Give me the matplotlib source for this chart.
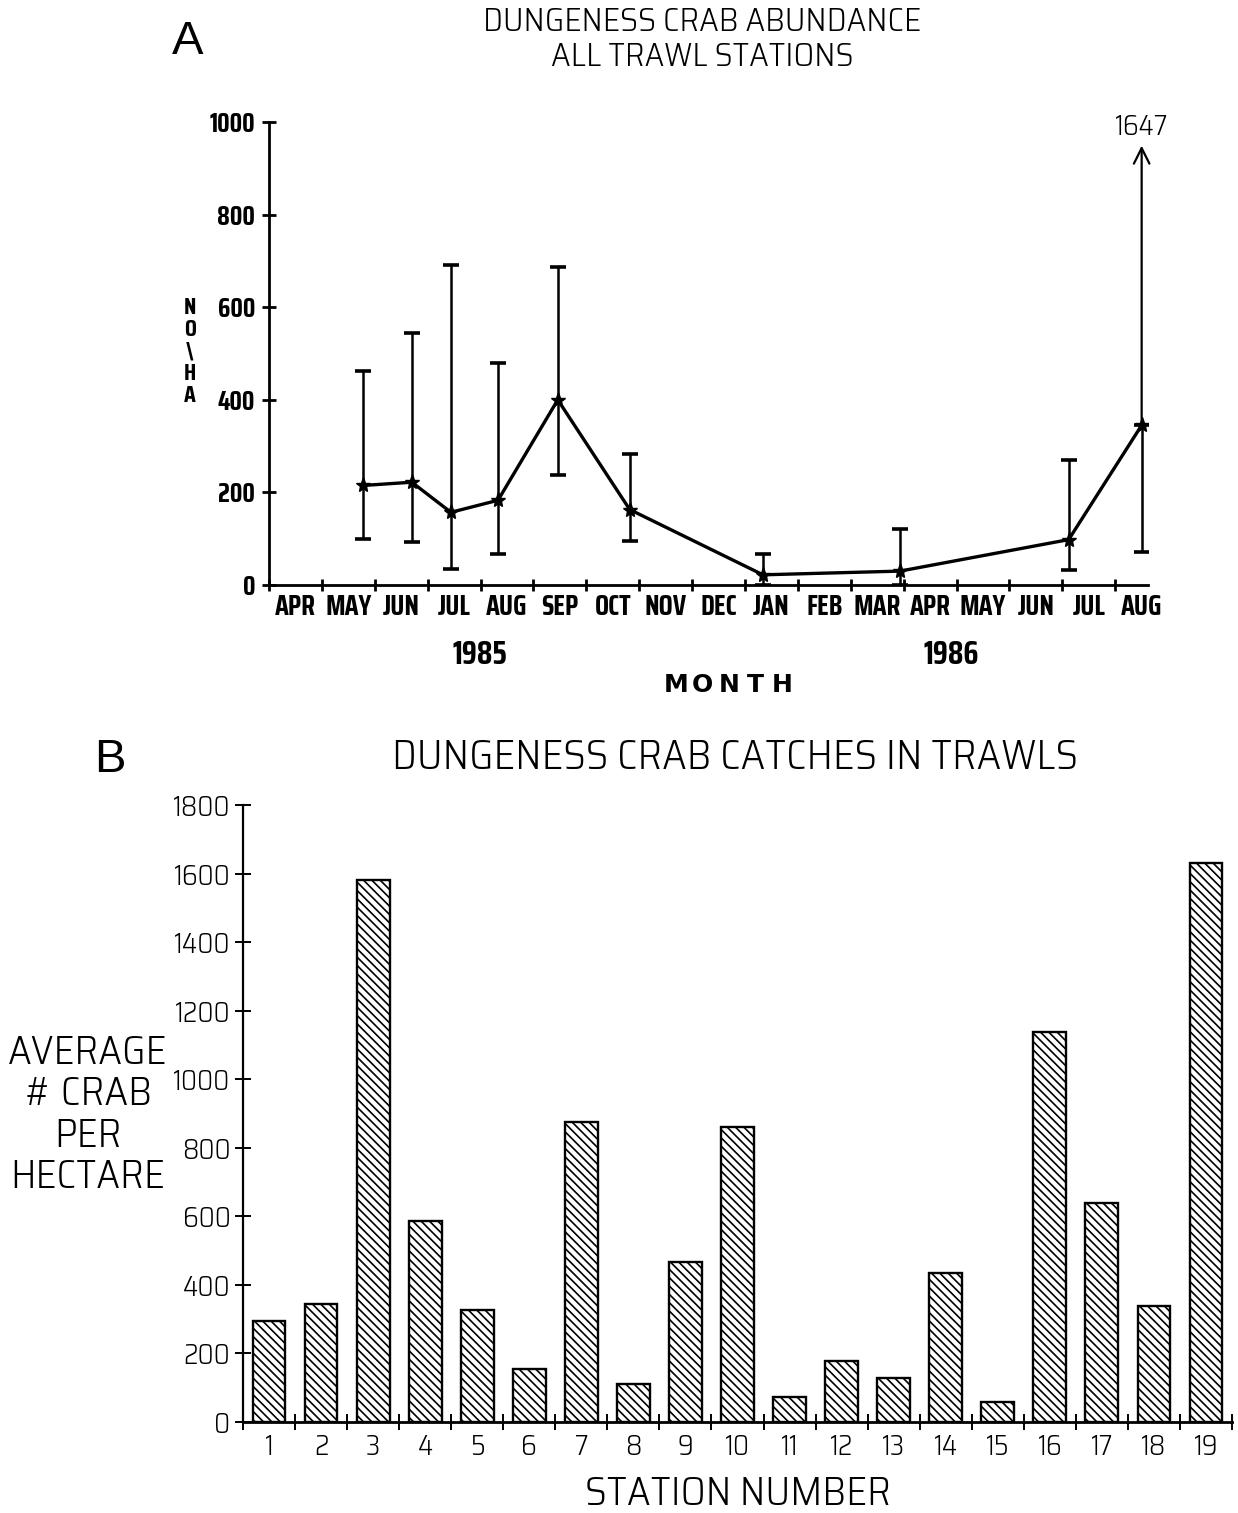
import matplotlib
matplotlib.use("Agg")
import matplotlib.pyplot as plt
import numpy as np

# ---------------- data ----------------
# Panel A
month_labels = ["APR", "MAY", "JUN", "JUL", "AUG", "SEP", "OCT", "NOV", "DEC",
                "JAN", "FEB", "MAR", "APR", "MAY", "JUN", "JUL", "AUG"]
sample_pos = [1.78, 2.70, 3.44, 4.33, 5.46, 6.82, 9.34, 11.93, 15.12, 16.50]
abundance = [215, 222, 157, 183, 400, 163, 22, 30, 98, 345]
err_low = [100, 93, 35, 68, 237, 95, 0, 0, 32, 72]
err_high = [462, 545, 692, 480, 686, 283, 68, 122, 270, 1647]
a_yticks = [0, 200, 400, 600, 800, 1000]

# Panel B
stations = list(range(1, 20))
catch = [295, 345, 1580, 585, 328, 155, 875, 112, 468, 860,
         72, 178, 127, 435, 57, 1137, 638, 338, 1630]
b_yticks = [0, 200, 400, 600, 800, 1000, 1200, 1400, 1600, 1800]

# ---------------- figure ----------------
W, H = 1238, 1513
fig = plt.figure(figsize=(W / 100, H / 100), dpi=100)

THIN = dict(fontfamily=["Saira SemiCondensed", "DejaVu Sans"], fontweight=300)
BOLD = dict(fontfamily=["Saira Condensed", "Saira ExtraCondensed", "DejaVu Sans"],
            fontweight=700)
SANS = dict(fontfamily=["Liberation Sans", "DejaVu Sans"])


def px_axes(left, right, top, bottom):
    return fig.add_axes([left / W, 1 - bottom / H, (right - left) / W, (bottom - top) / H])


# ======== Panel A ========
axA = px_axes(269, 1148, 100, 585)
axA.set_xlim(0, 16.62)
axA.set_ylim(0, 1047.5)
for s in ["top", "right"]:
    axA.spines[s].set_visible(False)
axA.spines["left"].set_bounds(0, 1000)
axA.spines["left"].set_linewidth(2.0)
axA.spines["bottom"].set_linewidth(2.0)

axA.set_yticks(a_yticks)
axA.set_yticklabels([str(v) for v in a_yticks], fontsize=19, **BOLD)
axA.tick_params(axis="y", direction="inout", length=10, width=2, pad=5)

axA.set_xticks(np.arange(0, 17))
axA.set_xticklabels([])
axA.set_xticks(np.arange(17) + 0.5, minor=True)
axA.set_xticklabels(month_labels, minor=True, fontsize=20, **BOLD)
axA.tick_params(axis="x", which="major", direction="inout", length=9, width=2)
axA.tick_params(axis="x", which="minor", length=0, pad=6)

axA.plot(sample_pos, abundance, color="black", lw=2.4, zorder=3)
axA.plot(sample_pos, abundance, color="black", lw=0, marker="*",
         markersize=11, zorder=4)
for x, lo, hi, y in zip(sample_pos, err_low, err_high, abundance):
    if hi <= 1000:
        axA.errorbar([x], [y], yerr=[[y - lo], [hi - y]], fmt="none",
                     ecolor="black", elinewidth=1.8, capsize=6, capthick=2.6,
                     zorder=2)
    else:
        axA.errorbar([x], [y], yerr=[[y - lo], [0]], fmt="none",
                     ecolor="black", elinewidth=1.8, capsize=6, capthick=2.6,
                     zorder=2)
        axA.annotate("", xy=(x, 955), xytext=(x, y),
                     arrowprops=dict(arrowstyle="->", lw=1.6, color="black",
                                     mutation_scale=28))
        axA.text(x, 990, str(hi), ha="center", va="center", fontsize=20,
                 **THIN)

fig.text(702 / W, 1 - 22 / H, "DUNGENESS CRAB ABUNDANCE", ha="center",
         va="center", fontsize=24, **THIN)
fig.text(702 / W, 1 - 57 / H, "ALL TRAWL STATIONS", ha="center",
         va="center", fontsize=24, **THIN)
fig.text(188 / W, 1 - 42 / H, "A", ha="center", va="center", fontsize=34,
         **SANS)

fig.text(190 / W, 1 - 352 / H, "N\nO\n\\\nH\nA", ha="center", va="center",
         fontsize=17, linespacing=1.0, **BOLD)

fig.text(480 / W, 1 - 655 / H, "1985", ha="center", va="center", fontsize=23,
         **BOLD)
fig.text(951 / W, 1 - 655 / H, "1986", ha="center", va="center", fontsize=23,
         **BOLD)
for i, ch in enumerate("MONTH"):
    fig.text((676 + i * 26.5) / W, 1 - 685 / H, ch, ha="center", va="center",
             fontsize=18, fontweight="bold", fontfamily=["DejaVu Sans"])

# ======== Panel B ========
axB = px_axes(243, 1232, 805, 1422)
axB.set_xlim(0.5, 19.5)
axB.set_ylim(0, 1800)
for s in ["top", "right"]:
    axB.spines[s].set_visible(False)
axB.spines["left"].set_linewidth(1.6)
axB.spines["bottom"].set_linewidth(2.0)

plt.rcParams["hatch.linewidth"] = 1.2
axB.bar(stations, catch, width=0.63, facecolor="white", edgecolor="black",
        linewidth=1.7, hatch="\\\\\\\\", zorder=2)

axB.set_yticks(b_yticks)
axB.set_yticklabels([str(v) for v in b_yticks], fontsize=20, **THIN)
axB.tick_params(axis="y", direction="inout", length=12, width=1.4, pad=3)
axB.set_xticks(np.arange(0.5, 20, 1))
axB.set_xticklabels([])
axB.set_xticks(stations, minor=True)
axB.set_xticklabels([str(s) for s in stations], minor=True, fontsize=20,
                    **THIN)
axB.tick_params(axis="x", which="major", direction="inout", length=11, width=1.4)
axB.tick_params(axis="x", which="minor", length=0, pad=8)

fig.text(735 / W, 1 - 757 / H, "DUNGENESS CRAB CATCHES IN TRAWLS", ha="center",
         va="center", fontsize=30, **THIN)
fig.text(110 / W, 1 - 760 / H, "B", ha="center", va="center", fontsize=34,
         **SANS)
fig.text(88 / W, 1 - 1115 / H, "AVERAGE\n# CRAB\nPER\nHECTARE", ha="center",
         va="center", fontsize=29, linespacing=1.12, **THIN)
fig.text(738 / W, 1 - 1494 / H, "STATION NUMBER", ha="center", va="center",
         fontsize=29, **THIN)

fig.savefig("out.png", dpi=100, facecolor="white")
